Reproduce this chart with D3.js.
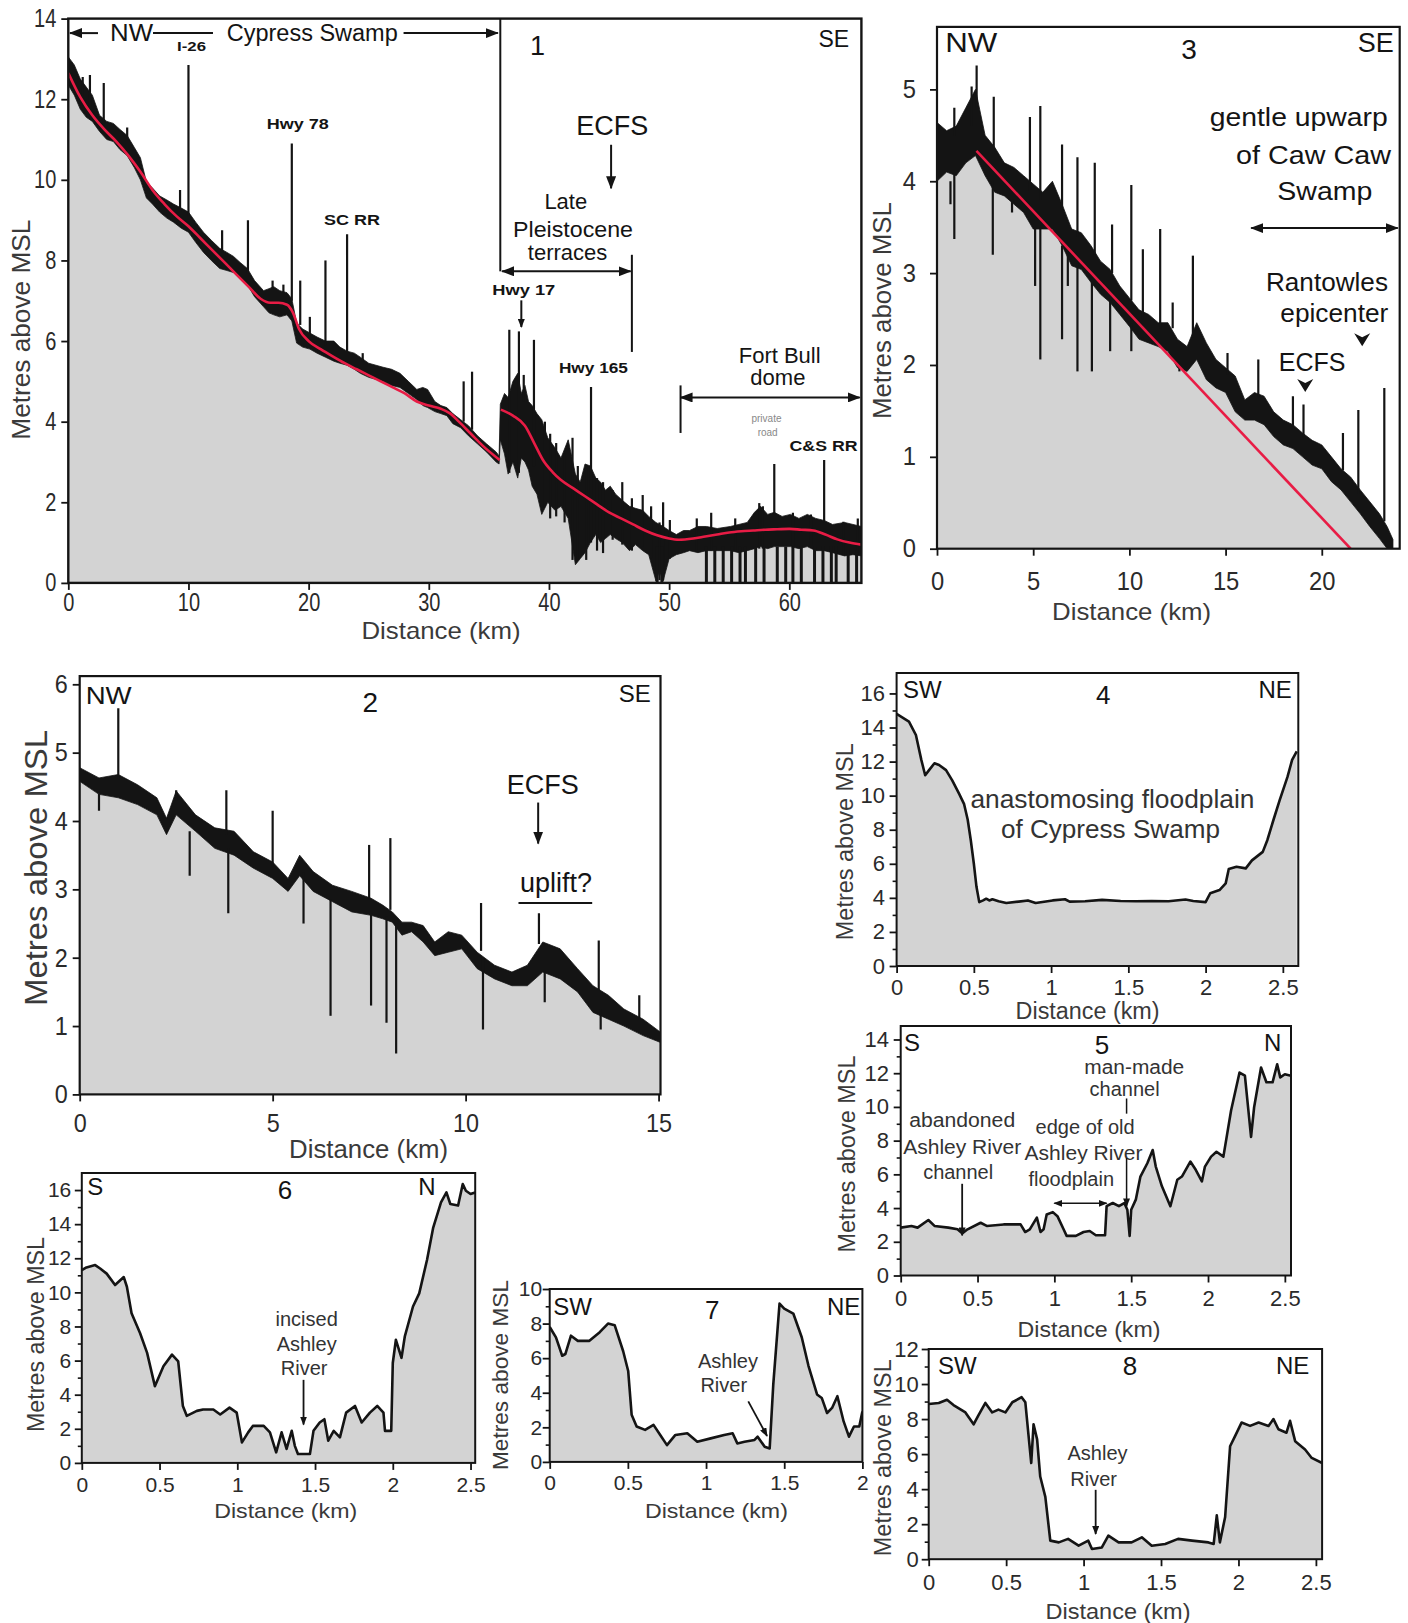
<!DOCTYPE html>
<html>
<head>
<meta charset="utf-8">
<script src="https://cdn.jsdelivr.net/npm/d3@7"></script>
<style>
  body { margin: 0; background: #fff; }
  svg { display: block; font-family: "Liberation Sans", Arial, sans-serif; }
</style>
</head>
<body>
<svg id="fig" width="1408" height="1623"></svg>
<script>
// ---- profile 1 (NW-SE, Cypress Swamp) : [km, low, high] of the noisy band
const p1Band = [
  [0, 12.35, 13.05], [0.5, 12.1, 12.85], [1, 11.75, 12.5], [1.5, 11.55, 12.3], [2, 11.45, 12.1],
  [2.6, 11.2, 11.6], [3.2, 11.0, 11.45], [3.75, 10.95, 11.4], [4.3, 10.75, 11.25], [4.9, 10.6, 11.1],
  [5.5, 10.3, 10.8], [6.0, 10.0, 10.55], [6.5, 9.55, 9.95], [7.0, 9.4, 9.8], [7.6, 9.2, 9.6],
  [8.2, 9.05, 9.5], [8.75, 8.95, 9.4], [9.4, 8.8, 9.3], [10.0, 8.7, 9.2], [10.6, 8.45, 8.95],
  [11.25, 8.2, 8.7], [11.9, 8.0, 8.5], [12.6, 7.8, 8.3], [13.2, 7.75, 8.2], [13.75, 7.7, 8.1],
  [14.3, 7.55, 7.95], [14.9, 7.4, 7.8], [15.5, 7.1, 7.5], [16.25, 6.85, 7.25], [16.7, 6.7, 7.3],
  [17.1, 6.65, 7.35], [17.6, 6.6, 7.25], [18.2, 6.65, 7.2], [18.6, 6.5, 7.05], [19.0, 5.95, 6.45],
  [19.5, 5.85, 6.3], [20.1, 5.8, 6.2], [20.7, 5.7, 6.1], [21.4, 5.6, 6.0], [22.1, 5.5, 6.0],
  [22.6, 5.45, 5.85], [23.2, 5.4, 5.75], [23.8, 5.3, 5.7], [24.3, 5.2, 5.6], [25.0, 5.1, 5.45],
  [25.6, 5.05, 5.4], [26.2, 5.0, 5.35], [26.9, 4.9, 5.3], [27.6, 4.85, 5.2], [28.3, 4.7, 5.0],
  [29.0, 4.55, 4.8], [29.5, 4.4, 4.85], [29.9, 4.35, 4.8], [30.5, 4.25, 4.5], [31.0, 4.2, 4.4],
  [31.5, 4.15, 4.35], [32.0, 3.95, 4.2], [32.65, 3.85, 4.05], [33.3, 3.65, 3.9], [34.05, 3.45, 3.65],
  [34.8, 3.25, 3.45], [35.6, 3.0, 3.25], [35.85, 2.95, 3.15], [35.95, 3.55, 4.43], [36.3, 3.2, 4.7],
  [36.6, 2.7, 4.6], [37.0, 3.0, 5.0], [37.4, 2.6, 5.2], [37.7, 3.1, 4.7], [38.0, 3.0, 4.9],
  [38.3, 2.8, 4.5], [38.6, 2.4, 4.4], [39.0, 2.2, 4.2], [39.4, 1.7, 4.05], [39.9, 2.0, 3.6],
  [40.5, 1.8, 3.35], [41.0, 1.9, 3.1], [41.6, 1.6, 3.55], [42.2, 0.45, 2.7], [42.6, 0.6, 2.5],
  [43.0, 0.75, 2.95], [43.45, 1.0, 2.9], [43.9, 1.2, 2.6], [44.3, 1.0, 2.5], [44.7, 1.1, 2.3],
  [45.1, 1.2, 2.4], [45.55, 1.1, 2.2], [46.1, 1.0, 2.05], [46.7, 0.8, 1.9], [47.2, 0.95, 1.85],
  [47.8, 0.8, 1.8], [48.3, 0.7, 1.65], [48.9, 0.05, 1.5], [49.2, 0.3, 1.45], [49.5, 0.05, 1.4],
  [50.0, 0.6, 1.3], [50.6, 0.7, 1.2], [51.2, 0.75, 1.3], [51.7, 0.8, 1.3], [52.4, 0.75, 1.4],
  [53.1, 0.8, 1.4], [54.0, 0.8, 1.35], [55.1, 0.8, 1.4], [55.8, 0.75, 1.45], [56.5, 0.8, 1.5],
  [57.1, 0.85, 1.75], [57.6, 0.9, 1.9], [58.2, 0.85, 1.7], [58.75, 0.9, 1.75], [59.4, 0.9, 1.65],
  [60.1, 0.9, 1.7], [60.8, 0.85, 1.6], [61.5, 0.9, 1.7], [62.2, 0.8, 1.6], [62.9, 0.8, 1.55],
  [63.6, 0.75, 1.45], [64.6, 0.67, 1.5], [65.3, 0.7, 1.45], [66.0, 0.67, 1.4]
];
// road embankments, ditches and noise spikes: [km, from, to]
const p1Spikes = [
  [1.2, 12.0, 12.55], [1.8, 11.8, 12.6], [2.95, 11.4, 12.4], [4.9, 11.0, 11.3], [9.3, 9.2, 9.75],
  [10.0, 9.1, 12.85], [12.8, 8.2, 8.75], [14.95, 7.7, 9.0], [17.0, 7.3, 7.5], [17.9, 7.2, 7.4],
  [18.6, 7.0, 10.9], [19.3, 6.4, 7.5], [20.1, 6.1, 6.6], [21.4, 5.9, 8.0], [23.2, 5.7, 8.65],
  [24.5, 5.5, 5.7], [32.9, 4.0, 5.0], [33.6, 3.8, 5.24],
  [36.7, 2.73, 6.28], [37.5, 2.73, 6.24], [37.9, 4.5, 5.16], [38.75, 2.89, 6.03], [39.66, 1.9, 4.0],
  [40.1, 1.6, 3.7], [40.6, 1.65, 3.47], [41.3, 1.5, 3.2], [41.96, 0.57, 3.6], [42.4, 0.57, 2.9],
  [43.1, 0.57, 2.89], [43.5, 1.0, 4.86], [44.0, 0.8, 2.6], [44.5, 0.74, 2.5], [45.3, 1.07, 2.3],
  [46.1, 0.95, 2.5], [46.9, 0.8, 2.1], [47.8, 0.9, 2.18], [48.5, 0.6, 1.9], [49.2, 0.07, 1.5],
  [49.5, 0.07, 2.0], [50.06, 0.6, 1.56], [52.3, 0.8, 1.6], [53.5, 0.8, 1.74], [55.5, 0.8, 1.6],
  [57.5, 0.85, 1.98], [57.8, 0.85, 1.9], [58.75, 1.7, 2.95], [60.3, 0.9, 1.74], [61.8, 0.9, 1.7],
  [62.9, 1.5, 3.05], [64.5, 0.7, 1.52], [65.7, 0.7, 1.6]
];
// gaps down to sea level east of Hwy 165: [km, from]
const p1Bars = [
  [49.0, 0.9], [49.4, 0.9], [53.1, 0.9], [53.8, 0.9], [54.5, 0.9], [55.2, 0.9], [55.9, 0.9],
  [56.35, 0.9], [57.2, 0.9], [57.9, 0.9], [59.0, 0.9], [59.7, 0.9], [60.3, 0.9], [61.0, 0.9],
  [62.1, 0.9], [62.8, 0.9], [63.5, 0.9], [63.9, 0.9], [64.9, 0.8], [65.6, 0.8]
];
const p1TrendWest = [
  [0, 12.65], [1, 12.05], [2, 11.6], [3, 11.25], [4, 10.95], [5, 10.6], [6, 10.2], [7, 9.75],
  [8, 9.4], [9, 9.1], [10, 8.85], [11, 8.55], [12, 8.25], [13, 7.95], [14, 7.65], [15, 7.35],
  [16, 7.05], [16.8, 6.95], [17.5, 6.95], [18.2, 6.9], [18.7, 6.7], [19.2, 6.3], [20, 6.0],
  [21, 5.8], [22, 5.62], [23, 5.45], [24, 5.3], [25, 5.15], [26, 5.0], [27, 4.85], [28, 4.7],
  [29, 4.5], [30, 4.4], [31, 4.32], [31.8, 4.2], [32.5, 4.0], [33.5, 3.7], [34.5, 3.4], [35.9, 3.05]
];
const p1TrendEast = [
  [36, 4.3], [37, 4.15], [38, 3.9], [38.8, 3.45], [39.5, 3.05], [40.3, 2.75], [41, 2.55],
  [42, 2.35], [43, 2.15], [44, 1.95], [45, 1.75], [46, 1.6], [47, 1.45], [48, 1.3], [49, 1.18],
  [50, 1.1], [50.8, 1.07], [52, 1.1], [53, 1.15], [54, 1.2], [55, 1.25], [56, 1.28], [57, 1.3],
  [58, 1.32], [59, 1.33], [60, 1.34], [61, 1.32], [62, 1.3], [63, 1.2], [64, 1.08], [65, 1.0], [66, 0.95]
];

// ---- profile 2 (NW-SE)
const p2Band = [
  [0, 4.58, 4.78], [0.5, 4.39, 4.63], [1.0, 4.34, 4.68], [1.5, 4.24, 4.53], [2.0, 4.09, 4.34],
  [2.25, 3.8, 4.04], [2.5, 4.09, 4.44], [3.0, 3.85, 4.09], [3.5, 3.6, 3.9], [4.0, 3.5, 3.85],
  [4.5, 3.31, 3.55], [5.0, 3.16, 3.4], [5.4, 2.97, 3.16], [5.7, 3.2, 3.5], [6.05, 2.97, 3.26],
  [6.55, 2.82, 3.06], [7.05, 2.67, 2.97], [7.55, 2.62, 2.87], [7.85, 2.57, 2.77], [8.1, 2.52, 2.67],
  [8.35, 2.33, 2.52], [8.6, 2.38, 2.52], [8.9, 2.23, 2.47], [9.2, 2.03, 2.23], [9.55, 2.08, 2.38],
  [9.9, 2.13, 2.33], [10.3, 1.84, 2.08], [10.75, 1.69, 1.89], [11.2, 1.59, 1.79], [11.6, 1.59, 1.89],
  [12.0, 1.79, 2.23], [12.45, 1.69, 2.13], [12.9, 1.5, 1.84], [13.3, 1.2, 1.59], [13.7, 1.1, 1.45],
  [14.1, 1.0, 1.25], [14.6, 0.86, 1.1], [15.05, 0.76, 0.91]
];
const p2Spikes = [
  [1.0, 4.6, 5.65], [2.5, 4.3, 4.45], [3.8, 3.8, 4.45], [5.0, 3.35, 4.15], [7.5, 2.85, 3.65],
  [8.05, 2.7, 3.75], [10.4, 2.1, 2.8], [11.9, 2.2, 2.65], [13.45, 1.5, 2.25], [14.5, 1.1, 1.45],
  [0.5, 4.4, 4.15], [2.85, 3.85, 3.2], [3.85, 3.6, 2.65], [5.8, 3.25, 2.5], [6.5, 2.85, 1.15],
  [7.55, 2.65, 1.3], [7.95, 2.6, 1.05], [8.2, 2.5, 0.6], [10.45, 2.0, 0.95], [12.05, 1.8, 1.35],
  [13.5, 1.25, 0.95]
];

// ---- profile 3 (NW-SE, Caw Caw Swamp)
const p3Band = [
  [0, 4.0, 4.64], [0.5, 4.1, 4.55], [1.0, 4.06, 4.6], [1.5, 4.2, 4.8], [2.0, 4.28, 5.0],
  [2.5, 4.06, 4.5], [3.0, 3.88, 4.37], [3.5, 3.84, 4.2], [4.0, 3.75, 4.15], [4.5, 3.66, 4.06],
  [5.0, 3.48, 3.97], [5.5, 3.48, 3.88], [6.0, 3.48, 4.0], [6.5, 3.3, 3.75], [7.0, 3.08, 3.48],
  [7.5, 3.04, 3.44], [8.0, 2.9, 3.3], [8.5, 2.77, 3.13], [9.0, 2.68, 3.04], [9.5, 2.55, 2.86],
  [10.0, 2.42, 2.73], [10.5, 2.28, 2.6], [11.0, 2.24, 2.55], [11.5, 2.2, 2.46], [12.0, 2.15, 2.46],
  [12.5, 1.97, 2.28], [13.0, 1.93, 2.2], [13.5, 2.06, 2.46], [14.0, 1.84, 2.24], [14.5, 1.75, 2.06],
  [15.0, 1.7, 1.97], [15.5, 1.49, 1.88], [16.0, 1.4, 1.62], [16.5, 1.4, 1.7], [17.0, 1.35, 1.66],
  [17.5, 1.22, 1.49], [18.0, 1.13, 1.4], [18.5, 1.09, 1.35], [19.0, 1.0, 1.26], [19.5, 0.91, 1.18],
  [20.0, 0.87, 1.13], [20.5, 0.73, 1.0], [21.0, 0.64, 0.87], [21.5, 0.51, 0.78], [22.0, 0.38, 0.64],
  [22.5, 0.24, 0.51], [23.0, 0.11, 0.38], [23.4, 0.0, 0.24], [23.7, 0.0, 0.1]
];
const p3Spikes = [
  [0.9, 4.5, 4.8], [1.8, 4.6, 5.03], [2.06, 4.8, 5.26], [2.95, 4.3, 4.92], [4.83, 3.9, 4.7],
  [5.37, 3.8, 4.82], [6.5, 3.7, 4.4], [7.3, 3.4, 4.26], [8.2, 3.2, 4.2], [9.1, 3.0, 3.53],
  [10.1, 2.7, 3.96], [10.7, 2.5, 3.26], [11.6, 2.4, 3.48], [12.25, 2.4, 2.68], [13.3, 2.3, 3.19],
  [15.1, 1.9, 2.13], [16.7, 1.65, 2.06], [18.5, 1.3, 1.66], [19.05, 1.2, 1.57], [21.1, 0.85, 1.26],
  [21.9, 0.6, 1.51], [23.25, 0.3, 1.75],
  [0.7, 4.0, 3.75], [0.9, 4.1, 3.37], [2.9, 4.0, 3.2], [3.9, 3.8, 3.66], [5.1, 3.5, 2.86],
  [5.37, 3.5, 2.06], [6.5, 3.3, 2.28], [6.8, 3.3, 2.86], [7.3, 3.1, 1.93], [8.05, 2.95, 1.93],
  [9.0, 2.7, 2.15], [10.1, 2.45, 2.15], [10.7, 2.3, 2.28], [12.6, 2.0, 1.93]
];
const p3Trend = [[2.05, 4.33], [21.5, 0]];

// ---- cross-valley profiles 4-8: [km, m]
const p4Profile = [
  [0, 14.8], [0.08, 14.35], [0.125, 13.56], [0.16, 12.1], [0.185, 11.2], [0.21, 11.5], [0.245, 11.9],
  [0.275, 11.8], [0.32, 11.5], [0.36, 10.9], [0.405, 10.1], [0.437, 9.5], [0.46, 8.6], [0.48, 7.4],
  [0.5, 6.0], [0.517, 4.65], [0.535, 3.75], [0.56, 3.85], [0.58, 3.95], [0.6, 3.85], [0.62, 3.92],
  [0.66, 3.8], [0.71, 3.7], [0.79, 3.78], [0.85, 3.85], [0.9, 3.7], [1.01, 3.85], [1.09, 3.92],
  [1.12, 3.78], [1.22, 3.8], [1.33, 3.88], [1.45, 3.82], [1.55, 3.8], [1.65, 3.82], [1.76, 3.8],
  [1.87, 3.9], [1.92, 3.82], [2.0, 3.75], [2.03, 4.27], [2.09, 4.46], [2.13, 4.85], [2.15, 5.7],
  [2.2, 5.83], [2.26, 5.73], [2.3, 6.2], [2.37, 6.7], [2.4, 7.4], [2.44, 8.6], [2.48, 9.75],
  [2.53, 11.1], [2.56, 12.1], [2.59, 12.6]
];
const p5Profile = [
  [0, 2.84], [0.07, 2.94], [0.11, 2.84], [0.18, 3.29], [0.22, 2.94], [0.31, 2.84], [0.37, 2.74],
  [0.4, 2.5], [0.435, 2.74], [0.52, 3.13], [0.56, 2.94], [0.67, 3.03], [0.78, 3.03], [0.81, 2.58],
  [0.84, 2.74], [0.886, 3.43], [0.91, 2.58], [0.93, 2.74], [0.95, 3.62], [0.99, 3.76], [1.02, 3.52],
  [1.06, 2.74], [1.08, 2.35], [1.14, 2.35], [1.19, 2.58], [1.23, 2.64], [1.27, 2.39], [1.33, 2.39],
  [1.34, 4.11], [1.38, 4.3], [1.42, 4.11], [1.455, 4.3], [1.475, 3.9], [1.49, 2.35], [1.5, 3.9],
  [1.53, 4.5], [1.56, 5.87], [1.605, 6.66], [1.64, 7.44], [1.66, 6.46], [1.7, 5.29], [1.755, 4.11],
  [1.8, 5.68], [1.83, 5.87], [1.885, 6.76], [1.92, 6.27], [1.96, 5.58], [1.98, 6.46], [2.02, 7.05],
  [2.055, 7.34], [2.1, 7.05], [2.15, 9.79], [2.205, 12.04], [2.24, 11.85], [2.28, 8.22], [2.3, 9.98],
  [2.345, 12.34], [2.38, 11.46], [2.42, 11.46], [2.45, 12.53], [2.47, 11.75], [2.5, 11.94], [2.54, 11.85]
];
const p6Profile = [
  [0, 11.3], [0.03, 11.46], [0.086, 11.6], [0.118, 11.4], [0.16, 11.1], [0.214, 10.43], [0.27, 10.9],
  [0.29, 10.33], [0.32, 8.78], [0.375, 7.6], [0.42, 6.45], [0.47, 4.5], [0.525, 5.67], [0.58, 6.35],
  [0.62, 5.96], [0.65, 3.34], [0.675, 2.76], [0.74, 3.05], [0.78, 3.13], [0.846, 3.13], [0.89, 2.84],
  [0.95, 3.24], [0.996, 2.95], [1.03, 1.2], [1.07, 1.79], [1.1, 2.17], [1.17, 2.17], [1.21, 1.79],
  [1.25, 0.62], [1.285, 1.79], [1.317, 0.82], [1.35, 1.88], [1.37, 1.0], [1.39, 0.52], [1.467, 0.52],
  [1.49, 1.88], [1.53, 2.37], [1.56, 2.56], [1.585, 1.3], [1.62, 1.88], [1.66, 1.5], [1.7, 2.95],
  [1.757, 3.34], [1.8, 2.37], [1.853, 2.95], [1.9, 3.34], [1.94, 2.95], [1.95, 1.88], [1.99, 1.88],
  [2.0, 5.86], [2.02, 7.22], [2.056, 6.16], [2.077, 7.4], [2.13, 9.17], [2.17, 9.94], [2.22, 11.9],
  [2.26, 13.8], [2.31, 15.28], [2.345, 15.86], [2.37, 15.18], [2.42, 15.09], [2.45, 16.35],
  [2.47, 15.96], [2.5, 15.77], [2.53, 15.86]
];
const p7Profile = [
  [0, 7.8], [0.04, 7.2], [0.08, 6.14], [0.1, 6.24], [0.136, 7.3], [0.18, 7.0], [0.254, 7.0],
  [0.32, 7.5], [0.373, 8.0], [0.416, 7.9], [0.47, 6.4], [0.502, 5.26], [0.524, 2.73], [0.556, 2.05],
  [0.61, 1.85], [0.664, 2.14], [0.707, 1.56], [0.75, 0.97], [0.804, 1.56], [0.88, 1.66], [0.944, 1.17],
  [1.03, 1.36], [1.116, 1.56], [1.17, 1.66], [1.2, 1.07], [1.246, 1.17], [1.31, 1.27], [1.33, 1.46],
  [1.375, 0.88], [1.407, 0.78], [1.43, 4.48], [1.47, 9.16], [1.5, 8.87], [1.558, 8.58], [1.612, 7.21],
  [1.655, 5.56], [1.71, 3.9], [1.74, 3.7], [1.774, 2.83], [1.806, 3.12], [1.84, 3.8], [1.88, 2.34],
  [1.914, 1.46], [1.946, 2.05], [1.98, 2.05], [2.0, 2.92]
];
const p8Profile = [
  [0, 8.86], [0.065, 8.92], [0.118, 9.1], [0.16, 8.8], [0.237, 8.38], [0.29, 7.7], [0.32, 8.2],
  [0.366, 8.92], [0.41, 8.38], [0.45, 8.54], [0.495, 8.38], [0.54, 8.96], [0.6, 9.25], [0.624, 8.96],
  [0.645, 7.03], [0.662, 5.49], [0.677, 7.7], [0.7, 6.84], [0.72, 4.72], [0.753, 3.56], [0.785, 1.06],
  [0.84, 0.96], [0.9, 1.16], [0.968, 0.77], [1.03, 1.06], [1.054, 0.58], [1.118, 0.67], [1.16, 1.35],
  [1.226, 0.96], [1.31, 0.96], [1.376, 1.25], [1.44, 0.77], [1.527, 0.87], [1.61, 1.16], [1.7, 1.06],
  [1.806, 0.96], [1.84, 0.87], [1.86, 2.5], [1.88, 0.96], [1.914, 2.41], [1.946, 6.45], [1.978, 7.03],
  [2.02, 7.8], [2.075, 7.61], [2.13, 7.8], [2.194, 7.61], [2.226, 8.0], [2.258, 7.42], [2.31, 7.22],
  [2.333, 7.9], [2.366, 6.74], [2.43, 6.26], [2.473, 5.78], [2.54, 5.49]
];

const GRAY = '#d3d3d3';
const RED = '#e81c45';
const INK = '#141414';

const svg = d3.select('#fig');
const defs = svg.append('defs');
[['ahL', 13, 10], ['ahS', 9, 7]].forEach(([id, len, wid]) => {
  defs.append('marker').attr('id', id)
    .attr('viewBox', `0 ${-wid / 2} ${len} ${wid}`)
    .attr('refX', len - 1).attr('refY', 0)
    .attr('markerWidth', len).attr('markerHeight', wid)
    .attr('markerUnits', 'userSpaceOnUse')
    .attr('orient', 'auto-start-reverse')
    .append('path').attr('d', `M0,${-wid / 2}L${len},0L0,${wid / 2}Z`).attr('fill', INK);
});

const range = (a, b, s) => d3.range(a, b + s / 2, s);
const fmt = d => String(+d.toFixed(2));
// rough Arial advance widths, used to squeeze tall narrow tick digits
const em = s => d3.sum(s.split(''), c => (c === '.' ? 0.278 : 0.556));

const panels = [
  { id: 1, box: [68.3, 18.6, 793.1, 564.3], xd: [0, 66], yd: [0, 14],
    xt: range(0, 60, 10), yt: range(0, 14, 2), font: 25, sx: 0.8, xPad: 3, yPad: 5, frameW: 2.4,
    band: p1Band, spikes: p1Spikes, bars: p1Bars, trends: [p1TrendWest, p1TrendEast],
    yTitle: [20.7, 329.7, 220, 26], xTitle: [441, 630, 159, 24],
    notes: [
      { t: 'line', x1: 0.14, y1: 13.64, x2: 2.47, y2: 13.64, mk: 'start', ah: 'ahL' },
      { t: 'text', x: 5.26, y: 13.64, s: 'NW', size: 23, len: 43 },
      { t: 'line', x1: 7.05, y1: 13.64, x2: 12.04, y2: 13.64 },
      { t: 'text', x: 20.3, y: 13.64, s: 'Cypress Swamp', size: 23, len: 171 },
      { t: 'line', x1: 27.9, y1: 13.64, x2: 35.75, y2: 13.64, mk: 'end', ah: 'ahL' },
      { t: 'text', x: 10.26, y: 13.3, s: 'I-26', size: 13, bold: true, len: 29 },
      { t: 'text', x: 19.1, y: 11.38, s: 'Hwy 78', size: 14, bold: true, len: 62 },
      { t: 'text', x: 23.6, y: 9.0, s: 'SC RR', size: 14, bold: true, len: 56 },
      { t: 'text', x: 39.05, y: 13.33, s: '1', size: 27 },
      { t: 'text', x: 63.7, y: 13.49, s: 'SE', size: 23 },
      { t: 'text', x: 45.26, y: 11.33, s: 'ECFS', size: 27 },
      { t: 'line', x1: 45.17, y1: 10.87, x2: 45.17, y2: 9.79, mk: 'end', ah: 'ahL' },
      { t: 'text', x: 41.4, y: 9.45, s: 'Late', size: 22 },
      { t: 'text', x: 42.0, y: 8.78, s: 'Pleistocene', size: 22, len: 120 },
      { t: 'text', x: 41.55, y: 8.19, s: 'terraces', size: 22 },
      { t: 'line', x1: 35.95, y1: 14, x2: 35.95, y2: 7.73 },
      { t: 'line', x1: 36.1, y1: 7.73, x2: 46.8, y2: 7.73, mk: 'both', ah: 'ahL' },
      { t: 'line', x1: 46.9, y1: 8.14, x2: 46.9, y2: 5.73 },
      { t: 'text', x: 37.9, y: 7.27, s: 'Hwy 17', size: 14, bold: true, len: 63 },
      { t: 'line', x1: 37.7, y1: 7.01, x2: 37.7, y2: 6.35, mk: 'end', ah: 'ahS' },
      { t: 'text', x: 43.7, y: 5.32, s: 'Hwy 165', size: 14, bold: true, len: 69 },
      { t: 'text', x: 59.2, y: 5.65, s: 'Fort Bull', size: 22 },
      { t: 'text', x: 59.05, y: 5.09, s: 'dome', size: 22 },
      { t: 'line', x1: 50.95, y1: 4.6, x2: 65.86, y2: 4.6, mk: 'both', ah: 'ahL' },
      { t: 'line', x1: 50.95, y1: 4.9, x2: 50.95, y2: 3.72 },
      { t: 'text', x: 58.1, y: 4.08, s: 'private', size: 10, fill: '#888' },
      { t: 'text', x: 58.2, y: 3.72, s: 'road', size: 10, fill: '#888' },
      { t: 'text', x: 62.85, y: 3.39, s: 'C&S RR', size: 14, bold: true, len: 68 }
    ] },
  { id: 3, box: [937, 26.9, 462.7, 521.8], xd: [0, 24.05], yd: [0, 5.68],
    xt: range(0, 20, 5), yt: range(0, 5, 1), font: 25, sx: 0.95, xPad: 17, yPad: 14, frameW: 2.2,
    band: p3Band, spikes: p3Spikes, bars: [], trends: [p3Trend],
    yTitle: [882, 310.6, 217, 26], xTitle: [1131.6, 611, 159, 24],
    notes: [
      { t: 'text', x: 1.78, y: 5.5, s: 'NW', size: 27, len: 52 },
      { t: 'text', x: 13.1, y: 5.43, s: '3', size: 28 },
      { t: 'text', x: 22.8, y: 5.5, s: 'SE', size: 27 },
      { t: 'text', x: 18.8, y: 4.7, s: 'gentle upwarp', size: 26, len: 178 },
      { t: 'text', x: 19.57, y: 4.29, s: 'of Caw Caw', size: 26, len: 155 },
      { t: 'text', x: 20.16, y: 3.89, s: 'Swamp', size: 26, len: 95 },
      { t: 'line', x1: 16.33, y1: 3.49, x2: 23.95, y2: 3.49, mk: 'both', ah: 'ahL' },
      { t: 'text', x: 20.27, y: 2.9, s: 'Rantowles', size: 25, len: 122 },
      { t: 'text', x: 20.65, y: 2.57, s: 'epicenter', size: 25, len: 108 },
      { t: 'tri', x: 22.1, y: 2.27 },
      { t: 'text', x: 19.5, y: 2.03, s: 'ECFS', size: 25 },
      { t: 'tri', x: 19.14, y: 1.77 }
    ] },
  { id: 2, box: [79.7, 676.1, 580.8, 418.3], xd: [0, 15.05], yd: [0, 6.12],
    xt: [0, 5, 10, 15], yt: range(0, 6, 1), font: 26, sx: 0.9, xPad: 12, yPad: 5, frameW: 2.2,
    band: p2Band, spikes: p2Spikes, bars: [], trends: [],
    yTitle: [36.2, 868, 276, 31], xTitle: [368.6, 1149, 159, 26],
    notes: [
      { t: 'text', x: 0.75, y: 5.83, s: 'NW', size: 24, len: 46 },
      { t: 'text', x: 7.53, y: 5.74, s: '2', size: 28 },
      { t: 'text', x: 14.38, y: 5.86, s: 'SE', size: 24 },
      { t: 'text', x: 12.0, y: 4.53, s: 'ECFS', size: 27 },
      { t: 'line', x1: 11.88, y1: 4.27, x2: 11.88, y2: 3.67, mk: 'end', ah: 'ahL' },
      { t: 'text', x: 12.34, y: 3.09, s: 'uplift?', size: 27 },
      { t: 'line', x1: 11.37, y1: 2.8, x2: 13.28, y2: 2.8 }
    ] },
  { id: 4, box: [896.6, 673, 401.7, 293], xd: [0, 2.6], yd: [0, 17.2],
    xt: range(0, 2.5, 0.5), yt: range(0, 16, 2), ym: range(1, 15, 2), font: 22, xPad: 6, yPad: 4.5,
    profile: p4Profile, yTitle: [844.8, 841.7, 197, 23], xTitle: [1087.6, 1010.5, 144, 23],
    notes: [
      { t: 'text', x: 0.167, y: 16.24, s: 'SW', size: 24 },
      { t: 'text', x: 1.337, y: 15.9, s: '4', size: 26 },
      { t: 'text', x: 2.45, y: 16.24, s: 'NE', size: 24 },
      { t: 'text', x: 1.397, y: 9.79, s: 'anastomosing floodplain', size: 25, len: 284, fill: '#333' },
      { t: 'text', x: 1.384, y: 8.03, s: 'of Cypress Swamp', size: 25, len: 219, fill: '#333' }
    ] },
  { id: 5, box: [900.7, 1026, 390.3, 249.5], xd: [0, 2.54], yd: [0, 14.8],
    xt: range(0, 2.5, 0.5), yt: range(0, 14, 2), ym: range(1, 13, 2), font: 22, xPad: 8, yPad: 4.7,
    profile: p5Profile, yTitle: [847, 1154, 197, 23], xTitle: [1089, 1329, 143, 22],
    notes: [
      { t: 'text', x: 0.074, y: 13.8, s: 'S', size: 24 },
      { t: 'text', x: 1.31, y: 13.7, s: '5', size: 26 },
      { t: 'text', x: 2.42, y: 13.8, s: 'N', size: 24 },
      { t: 'text', x: 1.52, y: 12.35, s: 'man-made', size: 20, len: 100, fill: '#333' },
      { t: 'text', x: 1.457, y: 11.06, s: 'channel', size: 20, fill: '#333' },
      { t: 'line', x1: 1.47, y1: 10.5, x2: 1.47, y2: 9.6, w: 1.5 },
      { t: 'text', x: 1.2, y: 8.8, s: 'edge of old', size: 20, fill: '#333' },
      { t: 'text', x: 1.19, y: 7.27, s: 'Ashley River', size: 20, len: 118, fill: '#333' },
      { t: 'text', x: 1.11, y: 5.75, s: 'floodplain', size: 20, fill: '#333' },
      { t: 'line', x1: 1.47, y1: 6.97, x2: 1.47, y2: 4.1, mk: 'end', ah: 'ahS', w: 1.5 },
      { t: 'line', x1: 1.0, y1: 4.28, x2: 1.34, y2: 4.28, mk: 'both', ah: 'ahS', w: 1.5 },
      { t: 'text', x: 0.4, y: 9.23, s: 'abandoned', size: 20, len: 106, fill: '#333' },
      { t: 'text', x: 0.4, y: 7.64, s: 'Ashley River', size: 20, len: 118, fill: '#333' },
      { t: 'text', x: 0.374, y: 6.11, s: 'channel', size: 20, fill: '#333' },
      { t: 'line', x1: 0.4, y1: 5.44, x2: 0.4, y2: 2.38, mk: 'end', ah: 'ahS', w: 1.8 }
    ] },
  { id: 6, box: [81.8, 1173, 393.4, 289.9], xd: [0, 2.53], yd: [0, 17.0],
    xt: range(0, 2.5, 0.5), yt: range(0, 16, 2), ym: range(1, 15, 2), font: 21, xPad: 7, yPad: 3.5,
    profile: p6Profile, yTitle: [36.2, 1334.5, 195, 23], xTitle: [285.7, 1510, 143, 21],
    notes: [
      { t: 'text', x: 0.086, y: 16.18, s: 'S', size: 24 },
      { t: 'text', x: 1.306, y: 16.0, s: '6', size: 26 },
      { t: 'text', x: 2.22, y: 16.18, s: 'N', size: 24 },
      { t: 'text', x: 1.446, y: 8.45, s: 'incised', size: 20, fill: '#333' },
      { t: 'text', x: 1.446, y: 7.0, s: 'Ashley', size: 20, fill: '#333' },
      { t: 'text', x: 1.43, y: 5.54, s: 'River', size: 20, fill: '#333' },
      { t: 'line', x1: 1.426, y1: 4.87, x2: 1.426, y2: 2.25, mk: 'end', ah: 'ahS', w: 1.8 }
    ] },
  { id: 7, box: [549.7, 1289, 312.7, 172.9], xd: [0, 2], yd: [0, 10],
    xt: range(0, 2, 0.5), yt: range(0, 10, 2), ym: range(1, 9, 2), font: 21, xPad: 6, yPad: 0.5,
    profile: p7Profile, yTitle: [500, 1375, 190, 22], xTitle: [716.4, 1510, 143, 21],
    notes: [
      { t: 'text', x: 0.147, y: 8.98, s: 'SW', size: 24 },
      { t: 'text', x: 1.04, y: 8.8, s: '7', size: 26 },
      { t: 'text', x: 1.88, y: 8.98, s: 'NE', size: 24 },
      { t: 'text', x: 1.14, y: 5.81, s: 'Ashley', size: 20, fill: '#333' },
      { t: 'text', x: 1.113, y: 4.43, s: 'River', size: 20, fill: '#333' },
      { t: 'line', x1: 1.27, y1: 3.5, x2: 1.39, y2: 1.5, mk: 'end', ah: 'ahS', w: 1.8 }
    ] },
  { id: 8, box: [928.7, 1349, 393.4, 210.2], xd: [0, 2.54], yd: [0, 12],
    xt: range(0, 2.5, 0.5), yt: range(0, 12, 2), ym: range(1, 11, 2), font: 22, xPad: 8, yPad: 3,
    profile: p8Profile, yTitle: [883, 1457.7, 197, 23], xTitle: [1118, 1611, 145, 22],
    notes: [
      { t: 'text', x: 0.185, y: 11.04, s: 'SW', size: 24 },
      { t: 'text', x: 1.3, y: 11.04, s: '8', size: 26 },
      { t: 'text', x: 2.35, y: 11.04, s: 'NE', size: 24 },
      { t: 'text', x: 1.09, y: 6.06, s: 'Ashley', size: 20, fill: '#333' },
      { t: 'text', x: 1.065, y: 4.56, s: 'River', size: 20, fill: '#333' },
      { t: 'line', x1: 1.078, y1: 3.96, x2: 1.078, y2: 1.44, mk: 'end', ah: 'ahS', w: 1.8 }
    ] }
];

function drawPanel(p) {
  const [bx, by, bw, bh] = p.box;
  const x = d3.scaleLinear().domain(p.xd).range([bx, bx + bw]);
  const y = d3.scaleLinear().domain(p.yd).range([by + bh, by]);
  const g = svg.append('g').attr('class', `panel-${p.id}`);

  defs.append('clipPath').attr('id', `clip${p.id}`)
    .append('rect').attr('x', bx).attr('y', by).attr('width', bw).attr('height', bh);
  const $plot = g.append('g').attr('clip-path', `url(#clip${p.id})`);

  if (p.band) {
    $plot.append('path').datum(p.band)
      .attr('d', d3.area().x(d => x(d[0])).y0(y(0)).y1(d => y(d[1])))
      .attr('fill', GRAY);
    $plot.append('path').datum(p.band)
      .attr('d', d3.area().x(d => x(d[0])).y0(d => y(d[1])).y1(d => y(d[2])))
      .attr('fill', INK).attr('stroke', INK).attr('stroke-width', 0.8);
    $plot.selectAll('.spike').data(p.spikes).join('line')
      .attr('class', 'spike')
      .attr('x1', d => x(d[0])).attr('x2', d => x(d[0]))
      .attr('y1', d => y(d[1])).attr('y2', d => y(d[2]))
      .attr('stroke', INK).attr('stroke-width', 2.2);
    $plot.selectAll('.bar').data(p.bars).join('line')
      .attr('class', 'bar')
      .attr('x1', d => x(d[0])).attr('x2', d => x(d[0]))
      .attr('y1', d => y(d[1])).attr('y2', y(0))
      .attr('stroke', INK).attr('stroke-width', 3);
    p.trends.forEach(tr => {
      $plot.append('path').datum(tr)
        .attr('d', d3.line().x(d => x(d[0])).y(d => y(d[1])).curve(d3.curveMonotoneX))
        .attr('fill', 'none').attr('stroke', RED).attr('stroke-width', 2.6);
    });
  } else {
    $plot.append('path').datum(p.profile)
      .attr('d', d3.area().x(d => x(d[0])).y0(y(0)).y1(d => y(d[1])))
      .attr('fill', GRAY);
    $plot.append('path').datum(p.profile)
      .attr('d', d3.line().x(d => x(d[0])).y(d => y(d[1])))
      .attr('fill', 'none').attr('stroke', INK).attr('stroke-width', 2.6)
      .attr('stroke-linejoin', 'round');
  }

  g.append('rect').attr('x', bx).attr('y', by).attr('width', bw).attr('height', bh)
    .attr('fill', 'none').attr('stroke', INK).attr('stroke-width', p.frameW || 2);

  // axes
  const $ya = g.append('g').attr('transform', `translate(${bx},0)`)
    .call(d3.axisLeft(y).tickValues(p.yt).tickSize(7).tickPadding(p.yPad).tickFormat(fmt));
  const $xa = g.append('g').attr('transform', `translate(0,${by + bh})`)
    .call(d3.axisBottom(x).tickValues(p.xt).tickSize(7).tickPadding(p.xPad).tickFormat(fmt));
  if (p.ym) {
    g.append('g').attr('transform', `translate(${bx},0)`)
      .call(d3.axisLeft(y).tickValues(p.ym).tickSize(4).tickFormat(''))
      .call(a => a.select('.domain').remove())
      .selectAll('line').attr('stroke', INK).attr('stroke-width', 1.6);
  }
  [$ya, $xa].forEach(a => {
    a.select('.domain').remove();
    a.selectAll('line').attr('stroke', INK).attr('stroke-width', 1.8);
    const $txt = a.selectAll('text').attr('font-size', p.font).attr('fill', '#2a2a2a')
      .attr('font-family', '"Liberation Sans", Arial, sans-serif');
    if (p.sx) {
      $txt.attr('textLength', d => em(fmt(d)) * p.font * p.sx)
        .attr('lengthAdjust', 'spacingAndGlyphs');
    }
  });

  // axis titles
  const [tx, ty, tl, ts] = p.yTitle;
  g.append('text').attr('transform', `translate(${tx},${ty}) rotate(-90)`)
    .attr('text-anchor', 'middle').attr('dominant-baseline', 'central')
    .attr('font-size', ts).attr('fill', '#3a3a3a')
    .attr('textLength', tl).attr('lengthAdjust', 'spacingAndGlyphs')
    .text('Metres above MSL');
  const [ux, uy, ul, us] = p.xTitle;
  g.append('text').attr('x', ux).attr('y', uy)
    .attr('text-anchor', 'middle').attr('dominant-baseline', 'central')
    .attr('font-size', us).attr('fill', '#3a3a3a')
    .attr('textLength', ul).attr('lengthAdjust', 'spacingAndGlyphs')
    .text('Distance (km)');

  // annotations
  p.notes.forEach(a => {
    if (a.t === 'text') {
      const $t = g.append('text').attr('x', x(a.x)).attr('y', y(a.y))
        .attr('text-anchor', 'middle').attr('dominant-baseline', 'central')
        .attr('font-size', a.size).attr('font-weight', a.bold ? 'bold' : null)
        .attr('fill', a.fill || INK).text(a.s);
      if (a.len) $t.attr('textLength', a.len).attr('lengthAdjust', 'spacingAndGlyphs');
    } else if (a.t === 'line') {
      const $l = g.append('line')
        .attr('x1', x(a.x1)).attr('y1', y(a.y1)).attr('x2', x(a.x2)).attr('y2', y(a.y2))
        .attr('stroke', INK).attr('stroke-width', a.w || 2);
      if (a.mk === 'end' || a.mk === 'both') $l.attr('marker-end', `url(#${a.ah})`);
      if (a.mk === 'start' || a.mk === 'both') $l.attr('marker-start', `url(#${a.ah})`);
    } else if (a.t === 'tri') {
      g.append('path')
        .attr('transform', `translate(${x(a.x)},${y(a.y)})`)
        .attr('d', 'M-8,-7L0,6L8,-7L0,-3Z').attr('fill', INK);
    }
  });
}

panels.forEach(drawPanel);
</script>
</body>
</html>
